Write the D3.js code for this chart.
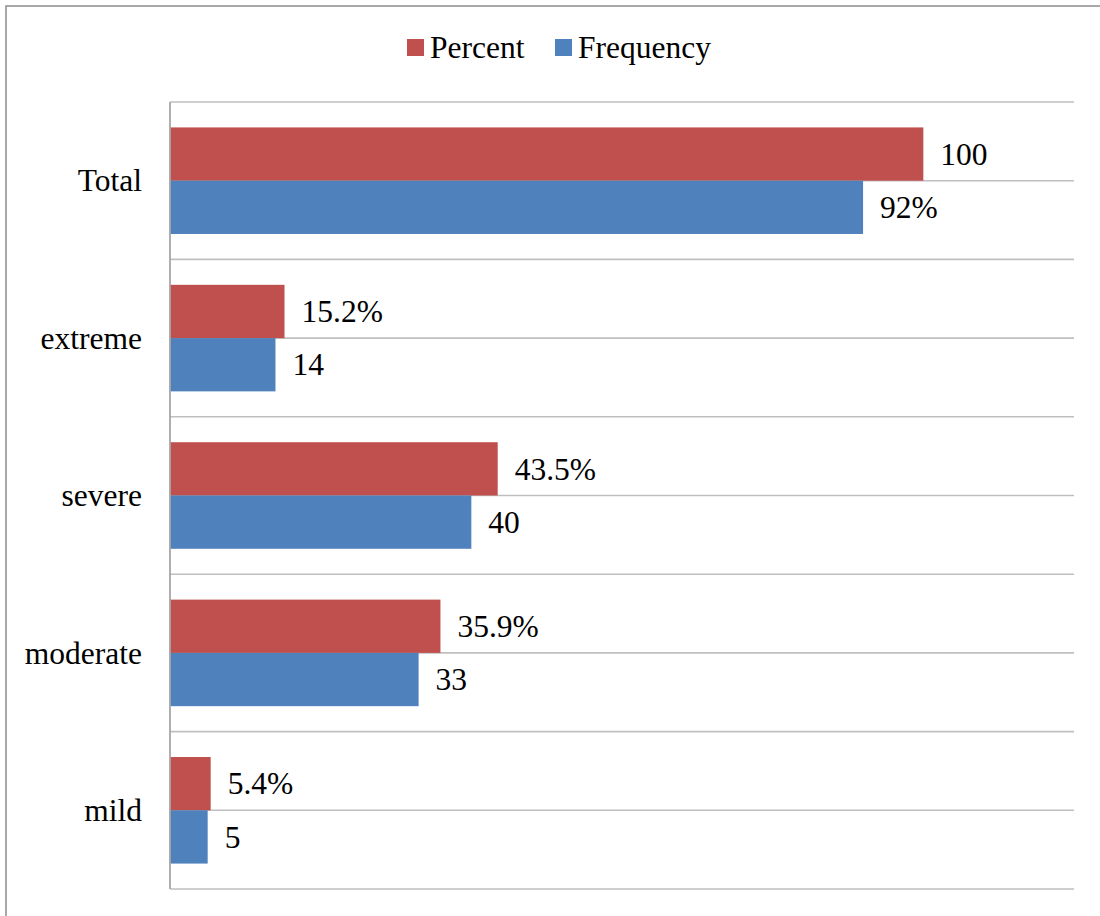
<!DOCTYPE html>
<html>
<head>
<meta charset="utf-8">
<script src="https://cdn.jsdelivr.net/npm/d3@7"></script>
</head>
<body style="margin:0;padding:0;background:#fff">
<div id="holder"></div>
<script>
const categories = ["Total", "extreme", "severe", "moderate", "mild"];
const seriesNames = ["Percent", "Frequency"];
const percentValues = [100, 15.2, 43.5, 35.9, 5.4];
const frequencyValues = [92, 14, 40, 33, 5];
const percentLabels = ["100", "15.2%", "43.5%", "35.9%", "5.4%"];
const frequencyLabels = ["92%", "14", "40", "33", "5"];
const seriesColors = ["#C0504D", "#4F81BD"];
const xDomain = [0, 120];

const FONT = "Liberation Serif";
const W = 1100, H = 916;
const svg = d3.select("#holder").append("svg")
  .attr("width", W).attr("height", H)
  .style("display", "block");
const plot = { left: 170, right: 1074, top: 102, bottom: 889 };
const fontSize = 31.5;

function serif(sel) {
  return sel.attr("font-family", FONT)
    .style("font-family", "'Liberation Serif', 'Times New Roman', serif", "important")
    .attr("fill", "#000")
    .attr("font-size", fontSize);
}

// outer frame
svg.append("rect")
  .attr("x", 6).attr("y", 6)
  .attr("width", W + 10).attr("height", H + 10)
  .attr("fill", "none").attr("stroke", "#8c8c8c").attr("stroke-width", 1.5);

const x = d3.scaleLinear().domain(xDomain).range([plot.left, plot.right]);
const pad = 0.323;
const y = d3.scaleBand().domain(categories).range([plot.top, plot.bottom])
  .paddingInner(pad).paddingOuter(pad / 2);
const ys = d3.scaleBand().domain(seriesNames).range([0, y.bandwidth()]);

// horizontal grid lines at category boundaries and centers
const gridYs = [];
categories.forEach(c => {
  gridYs.push(y(c) - y.step() * pad / 2);
  gridYs.push(y(c) + y.bandwidth() / 2);
});
gridYs.push(plot.bottom);
svg.append("g").selectAll("line").data(gridYs).join("line")
  .attr("x1", plot.left).attr("x2", plot.right)
  .attr("y1", d => d).attr("y2", d => d)
  .attr("stroke", "#bfbfbf").attr("stroke-width", 1.6);

const rows = categories.map((c, i) => ({
  cat: c,
  vals: [
    { s: "Percent", v: percentValues[i], label: percentLabels[i], color: seriesColors[0] },
    { s: "Frequency", v: frequencyValues[i], label: frequencyLabels[i], color: seriesColors[1] }
  ]
}));

const groups = svg.append("g").selectAll("g").data(rows).join("g")
  .attr("transform", d => `translate(0,${y(d.cat)})`);

groups.selectAll("rect").data(d => d.vals).join("rect")
  .attr("x", x(0))
  .attr("y", d => ys(d.s))
  .attr("width", d => x(d.v) - x(0))
  .attr("height", ys.bandwidth())
  .attr("fill", d => d.color);

groups.selectAll("text.lbl").data(d => d.vals).join("text")
  .attr("class", "lbl")
  .attr("x", d => x(d.v) + 17)
  .attr("y", d => ys(d.s) + ys.bandwidth() / 2)
  .attr("dy", "0.34em")
  .call(serif)
  .text(d => d.label);

// left axis line
svg.append("line")
  .attr("x1", plot.left).attr("x2", plot.left)
  .attr("y1", plot.top).attr("y2", plot.bottom)
  .attr("stroke", "#a6a6a6").attr("stroke-width", 1.8);

// category labels
const yAxis = d3.axisLeft(y).tickSize(0).tickPadding(28);
const ga = svg.append("g").attr("transform", `translate(${plot.left},0)`).call(yAxis);
ga.attr("font-family", FONT).attr("font-size", fontSize);
ga.select(".domain").remove();
ga.selectAll("text")
  .call(serif)
  .attr("dy", "0.34em");

// legend
const legendItems = [
  { name: "Percent", color: seriesColors[0], x: 407 },
  { name: "Frequency", color: seriesColors[1], x: 555 }
];
const lg = svg.append("g").selectAll("g").data(legendItems).join("g")
  .attr("transform", d => `translate(${d.x},39)`);
lg.append("rect").attr("width", 17).attr("height", 17).attr("fill", d => d.color);
lg.append("text").attr("x", 23).attr("y", 8.5).attr("dy", "0.34em")
  .call(serif)
  .text(d => d.name);
</script>
</body>
</html>
